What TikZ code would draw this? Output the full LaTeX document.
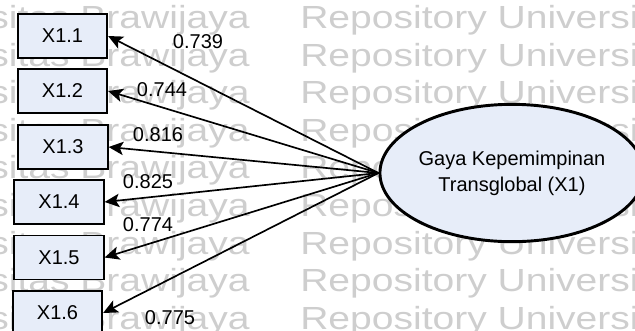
\documentclass[tikz,border=0pt]{standalone}
\usepackage{fontspec}
\setmainfont{Liberation Sans}
\usepackage{graphicx}
\usetikzlibrary{arrows.meta,shapes.geometric}
\definecolor{ink}{RGB}{0,0,0}
\definecolor{boxfill}{RGB}{231,237,249}
\definecolor{wmgray}{RGB}{206,206,206}
\tikzset{
  every picture/.style={x=0.75pt, y=-0.75pt, font=\fontsize{15}{19.5}\selectfont},
  ind/.style={draw=ink, line width=1.4pt, fill=boxfill, minimum width=67pt, minimum height=33pt, inner sep=0pt},
  latent/.style={ellipse, draw=ink, line width=2.2pt, fill=boxfill, minimum width=181pt, minimum height=103pt, align=center, inner sep=0pt},
  load/.style={-{Stealth[length=11pt,width=10pt,inset=2.5pt]}, line width=1.25pt, draw=ink},
  coef/.style={inner sep=0pt, text=ink},
  wmark/.style={inner sep=0pt, text=wmgray, font=\fontsize{24}{24}\selectfont},
}

\begin{document}
\begin{tikzpicture}
  \useasboundingbox (0,0) rectangle (635,330);
  \clip (0,0) rectangle (635,330);
  % repository stamp behind the diagram
  \foreach \k in {0,...,8} {
    \node[wmark, anchor=base east] (wl\k) at (250, {28.5+37.6*\k}) {\scalebox{1.22}[1]{Universitas Brawijaya}};
    \node[wmark, anchor=base west] (wr\k) at (300, {28.5+37.6*\k}) {\scalebox{1.22}[1]{Repository Universitas}};
  }
  % latent variable and its indicators
  \node[latent] (x1) at (512,173) {Gaya Kepemimpinan\\Transglobal (X1)};
  \node[ind] (x11) at (62.5,36) {X1.1};
  \node[ind] (x12) at (62.5,91) {X1.2};
  \node[ind] (x13) at (63,147) {X1.3};
  \node[ind] (x14) at (59,202) {X1.4};
  \node[ind] (x15) at (59,257.5) {X1.5};
  \node[ind] (x16) at (57.5,313) {X1.6};
  \foreach \i in {1,...,6} \draw[load] (x1.west) -- (x1\i.east);
  % loadings
  \node[coef] (c11) at (198,41.5) {0.739};
  \node[coef] (c12) at (162,89.5) {0.744};
  \node[coef] (c13) at (158,135) {0.816};
  \node[coef] (c14) at (148,181.5) {0.825};
  \node[coef] (c15) at (148,225) {0.774};
  \node[coef] (c16) at (170,318) {0.775};
\end{tikzpicture}
\end{document}
